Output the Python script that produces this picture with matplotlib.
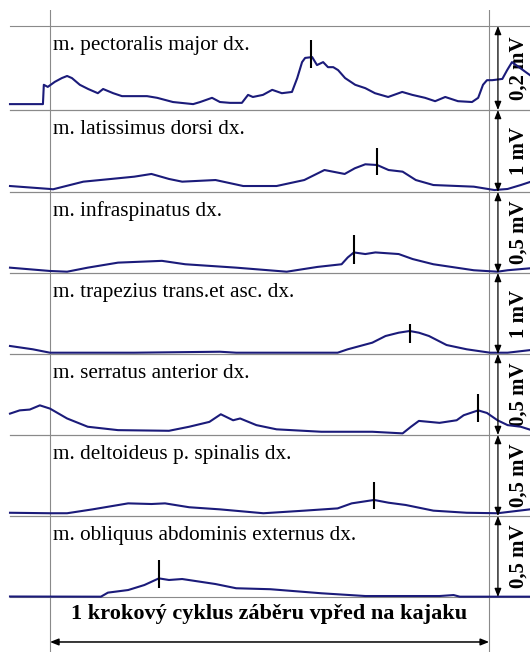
import matplotlib
matplotlib.use("Agg")
import matplotlib.pyplot as plt

# EMG traces of one kayak stroke cycle, time in % of cycle, amplitude in mV
muscles = ["m. pectoralis major dx.", "m. latissimus dorsi dx.", "m. infraspinatus dx.",
           "m. trapezius trans.et asc. dx.", "m. serratus anterior dx.",
           "m. deltoideus p. spinalis dx.", "m. obliquus abdominis externus dx."]
scales = [0.2, 1.0, 0.5, 1.0, 0.5, 0.5, 0.5]
scale_labels = ["0,2 mV", "1 mV", "0,5 mV", "1 mV", "0,5 mV", "0,5 mV", "0,5 mV"]

pectoralis = [(-9.1, 0.014), (-1.6, 0.014), (-1.4, 0.060), (-0.5, 0.055), (1.1, 0.067),
              (2.7, 0.076), (3.9, 0.081), (5.0, 0.076), (6.8, 0.060), (8.7, 0.050),
              (10.9, 0.040), (12.1, 0.050), (14.4, 0.040), (16.4, 0.033), (22.1, 0.033),
              (24.4, 0.029), (28.0, 0.019), (32.6, 0.014), (34.2, 0.019), (36.9, 0.029),
              (38.7, 0.019), (41.0, 0.017), (43.7, 0.017), (45.1, 0.036), (46.2, 0.031),
              (48.5, 0.036), (50.6, 0.048), (52.8, 0.040), (55.1, 0.043), (56.3, 0.076),
              (57.4, 0.114), (58.1, 0.124), (59.7, 0.126), (60.8, 0.107), (62.2, 0.114),
              (63.3, 0.102), (64.5, 0.102), (65.6, 0.095), (67.2, 0.076), (69.5, 0.060),
              (71.8, 0.052), (74.0, 0.040), (77.0, 0.031), (80.2, 0.043), (82.5, 0.036),
              (85.4, 0.029), (87.7, 0.021), (90.0, 0.031), (92.9, 0.021), (96.1, 0.019),
              (97.5, 0.029), (98.6, 0.060), (99.5, 0.071), (100.7, 0.071), (103.0, 0.074),
              (104.1, 0.095), (105.2, 0.114), (106.4, 0.105), (107.7, 0.095), (109.3, 0.083)]
latissimus = [(-9.1, 0.073), (0.0, 0.037), (0.7, 0.033), (7.6, 0.126), (13.9, 0.159),
              (19.2, 0.187), (23.1, 0.220), (27.1, 0.159), (30.1, 0.126), (37.7, 0.146),
              (44.0, 0.073), (51.6, 0.073), (57.9, 0.146), (62.5, 0.268), (67.1, 0.220),
              (69.4, 0.289), (71.8, 0.338), (74.5, 0.329), (77.1, 0.268), (80.3, 0.248),
              (83.3, 0.146), (87.3, 0.085), (96.5, 0.065), (101.2, 0.024), (104.2, 0.037),
              (107.2, 0.085), (109.3, 0.122)]
infraspinatus = [(-9.1, 0.033), (0.0, 0.0125), (3.9, 0.008), (8.6, 0.033), (15.5, 0.064),
                 (25.5, 0.075), (30.8, 0.054), (42.4, 0.033), (53.9, 0.008), (60.9, 0.0375),
                 (66.4, 0.054), (67.8, 0.096), (69.2, 0.127), (71.8, 0.117), (74.1, 0.127),
                 (79.4, 0.117), (82.6, 0.086), (87.3, 0.054), (96.5, 0.017), (101.9, 0.008),
                 (104.2, 0.017), (109.3, 0.029)]
trapezius = [(-9.1, 0.099), (-3.9, 0.058), (0.0, 0.016), (19.2, 0.016), (38.7, 0.028),
             (42.4, 0.016), (65.5, 0.016), (67.8, 0.058), (73.4, 0.140), (76.4, 0.222),
             (79.4, 0.263), (81.9, 0.284), (84.0, 0.263), (86.3, 0.222), (90.3, 0.111),
             (94.9, 0.058), (100.2, 0.016), (104.2, 0.016), (109.3, 0.048)]
serratus = [(-9.1, 0.132), (-6.9, 0.152), (-4.6, 0.157), (-2.3, 0.183), (0.0, 0.163),
            (3.9, 0.102), (8.6, 0.051), (15.5, 0.030), (27.1, 0.026), (31.7, 0.051),
            (36.3, 0.081), (38.9, 0.128), (41.7, 0.091), (43.3, 0.102), (47.0, 0.061),
            (51.6, 0.035), (61.8, 0.020), (73.4, 0.020), (80.3, 0.010), (82.2, 0.051),
            (84.0, 0.087), (88.7, 0.075), (92.6, 0.091), (94.2, 0.122), (97.5, 0.152),
            (99.5, 0.136), (101.9, 0.091), (104.2, 0.061), (107.2, 0.051), (109.3, 0.033)]
deltoideus = [(-9.1, 0.020), (0.0, 0.017), (3.9, 0.017), (9.7, 0.041), (17.8, 0.078),
              (23.1, 0.074), (26.2, 0.078), (31.7, 0.054), (38.7, 0.041), (48.6, 0.017),
              (57.9, 0.033), (65.5, 0.047), (68.7, 0.078), (73.8, 0.099), (77.1, 0.082),
              (81.0, 0.068), (87.3, 0.033), (94.9, 0.020), (101.9, 0.017), (109.3, 0.041)]
obliquus = [(-9.1, 0.003), (11.6, 0.002), (13.2, 0.027), (17.8, 0.043), (21.5, 0.074),
            (24.8, 0.115), (27.1, 0.105), (30.1, 0.111), (37.7, 0.080), (42.4, 0.054),
            (50.2, 0.048), (61.8, 0.023), (71.8, 0.006), (88.7, 0.006), (91.9, 0.012),
            (93.3, 0.002), (109.3, 0.002)]
signals = [pectoralis, latissimus, infraspinatus, trapezius, serratus, deltoideus, obliquus]

# peak markers: time, bottom, top (mV)
marker_t = [59.5, 74.5, 69.2, 81.9, 97.5, 73.8, 24.8]
marker_lo = [0.100, 0.207, 0.056, 0.136, 0.079, 0.043, 0.056]
marker_hi = [0.167, 0.537, 0.2375, 0.370, 0.256, 0.210, 0.228]

cycle_label = "1 krokový cyklus záběru vpřed na kajaku"

W, H = 530, 652
X0, X1 = 10, 530
T_LIM = (-9.1, 109.3)
edges = [26, 110, 192, 273, 354, 435, 516, 597]
SERIF = "Liberation Serif"
LINE = "#1b1b7a"
GRID = "#8a8a8a"

fig = plt.figure(figsize=(W / 100, H / 100), dpi=100)
fig.patch.set_facecolor("white")

# frame with the two cycle boundaries and the bottom dimension arrow
frame = fig.add_axes([X0 / W, 0, (X1 - X0) / W, (H - 10) / H])
frame.set_xlim(T_LIM)
frame.set_ylim(0, 1)
frame.axis("off")
for t in (0, 100):
    frame.axvline(t, color=GRID, lw=0.8)
frame.annotate("", xy=(0, 0.0156), xytext=(100, 0.0156),
               arrowprops=dict(arrowstyle="<|-|>,head_length=0.5,head_width=0.2",
                               color="black", lw=1.1, shrinkA=0, shrinkB=0))
frame.text(50, 0.059, cycle_label, ha="center", va="center", fontsize=16,
           fontweight="bold", family=SERIF)

for i, name in enumerate(muscles):
    top, bot = edges[i], edges[i + 1]
    ax = fig.add_axes([X0 / W, 1 - bot / H, (X1 - X0) / W, (bot - top) / H])
    ax.patch.set_alpha(0)
    ax.set_xlim(T_LIM)
    ax.set_ylim(0, scales[i])
    ax.set_xticks([])
    ax.set_yticks([])
    for side in ("left", "right"):
        ax.spines[side].set_visible(False)
    for side in ("top", "bottom"):
        ax.spines[side].set_color(GRID)
        ax.spines[side].set_linewidth(0.8)

    t, mv = zip(*signals[i])
    ax.plot(t, mv, color=LINE, lw=1.5, clip_on=False, zorder=3)
    ax.vlines(marker_t[i], marker_lo[i], marker_hi[i], color="black", lw=1.5, zorder=4)

    ax.annotate("", xy=(102, 0), xytext=(102, scales[i]), annotation_clip=False,
                arrowprops=dict(arrowstyle="<|-|>,head_length=0.5,head_width=0.2",
                                color="black", lw=0.9, shrinkA=0, shrinkB=0))
    ax.text(106.8, scales[i] / 2, scale_labels[i], rotation=90, ha="center", va="center",
            fontsize=15, fontweight="bold", family=SERIF, clip_on=False, zorder=1)
    ax.text(0.7, 1 - 24 / (bot - top), name, transform=ax.get_xaxis_transform(),
            va="baseline", fontsize=15.3, family=SERIF)

fig.savefig("out.png", dpi=100)
